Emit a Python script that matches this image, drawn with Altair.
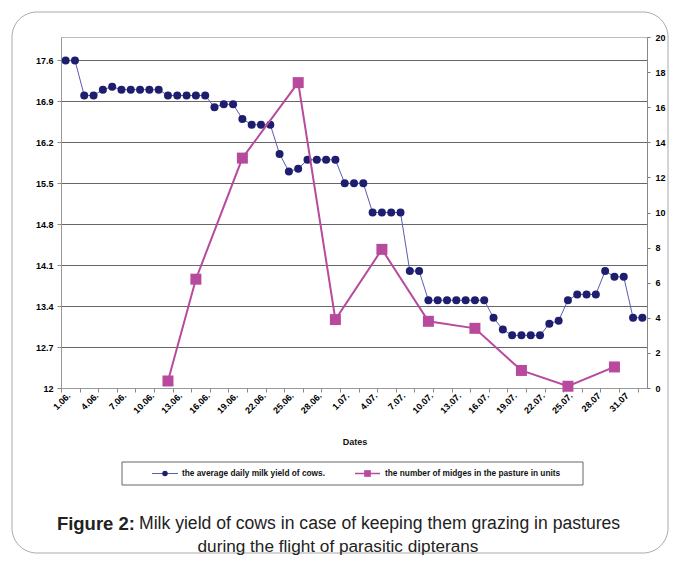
import json
import altair as alt
import pandas as pd

# ---------------- data ----------------
DATES = ([f"{d}.06." for d in range(1, 31)]
         + [f"{d}.07." for d in range(1, 28)]
         + ["28.07", "29.07", "30.07", "31.07", "1.08", "2.08"])

MILK = [17.6, 17.6, 17.0, 17.0, 17.1, 17.15, 17.1, 17.1, 17.1, 17.1,
        17.1, 17.0, 17.0, 17.0, 17.0, 17.0, 16.8, 16.85, 16.85, 16.6,
        16.5, 16.5, 16.5, 16.0, 15.7, 15.75, 15.9, 15.9, 15.9, 15.9,
        15.5, 15.5, 15.5, 15.0, 15.0, 15.0, 15.0, 14.0, 14.0, 13.5,
        13.5, 13.5, 13.5, 13.5, 13.5, 13.5, 13.2, 13.0, 12.9, 12.9,
        12.9, 12.9, 13.1, 13.15, 13.5, 13.6, 13.6, 13.6, 14.0, 13.9,
        13.9, 13.2, 13.2]

MIDGE_DAYS = ["12.06.", "15.06.", "20.06.", "26.06.", "30.06.", "5.07.",
              "10.07.", "15.07.", "20.07.", "25.07.", "30.07"]
MIDGE_VALUES = [0.4, 6.2, 13.1, 17.4, 3.9, 7.9, 3.8, 3.4, 1.0, 0.1, 1.2]

TICK_LABELS = DATES[::3]
LEFT_TICKS = [12, 12.7, 13.4, 14.1, 14.8, 15.5, 16.2, 16.9, 17.6]
RIGHT_TICKS = [0, 2, 4, 6, 8, 10, 12, 14, 16, 18, 20]

SERIES_NAMES = ["the average daily milk yield of cows.",
                "the number of midges in the pasture in units"]
X_TITLE = "Dates"
CAPTION_BOLD = "Figure 2:"
CAPTION_1 = "Milk yield of cows in case of keeping them grazing in pastures"
CAPTION_2 = "during the flight of parasitic dipterans"

df_milk = pd.DataFrame({"i": list(range(len(DATES))), "date": DATES, "milk": MILK})
df_mid = pd.DataFrame({"i": [DATES.index(d) for d in MIDGE_DAYS],
                       "date": MIDGE_DAYS, "midges": MIDGE_VALUES})
one = pd.DataFrame({"a": [0]})

FONT = "Liberation Sans"
BLUE_LINE = "#5b5bb0"
BLUE_DOT = "#1e1e6e"
PINK = "#b84a9e"

xscale = alt.Scale(domain=[-0.5, len(DATES) - 0.5], nice=False, zero=False)
label_expr = json.dumps(TICK_LABELS) + "[round(datum.value / 3)]"

x_labels_axis = alt.Axis(
    values=list(range(0, len(DATES), 3)), labelExpr=label_expr, ticks=False,
    domain=False, grid=False, labelAngle=-45, labelFont=FONT,
    labelFontWeight="bold", labelFontSize=9, labelColor="#000", title=None,
    orient="bottom", labelPadding=3, labelOverlap=False, labelBound=False,
    labelFlush=False)
x_ticks_axis = alt.Axis(
    values=[-0.5 + 2 * k for k in range(32)], labels=False, ticks=True,
    tickSize=4, tickColor="#888", domain=True, domainColor="#999",
    grid=False, title=None, orient="bottom")

milk = alt.Chart(df_milk).mark_line(
    color=BLUE_LINE, strokeWidth=1,
    point=alt.OverlayMarkDef(shape="circle", size=64, filled=True,
                             color=BLUE_DOT, opacity=1)
).encode(
    x=alt.X("i:Q", scale=xscale, axis=x_labels_axis),
    y=alt.Y("milk:Q", scale=alt.Scale(domain=[12, 18], nice=False, zero=False),
            axis=alt.Axis(values=LEFT_TICKS, format=".1~f", orient="left",
                          grid=True, gridColor="#666", gridWidth=1,
                          domainColor="#999", tickColor="#888", tickSize=4,
                          labelPadding=4, labelFont=FONT, labelFontSize=9,
                          labelFontWeight="bold", labelColor="#000",
                          title=None))
)

midges = alt.Chart(df_mid).mark_line(
    color=PINK, strokeWidth=2,
    point=alt.OverlayMarkDef(shape="square", size=121, filled=True,
                             color=PINK, opacity=1)
).encode(
    x=alt.X("i:Q", scale=xscale, axis=x_ticks_axis),
    y=alt.Y("midges:Q", scale=alt.Scale(domain=[0, 20], nice=False),
            axis=alt.Axis(values=RIGHT_TICKS, orient="right", grid=False,
                          domainColor="#888", tickColor="#777", tickSize=3,
                          labelPadding=5, labelFont=FONT, labelFontSize=9,
                          labelFontWeight="bold", labelColor="#000",
                          title=None))
)

# ---------------- annotations (frame, legend, titles) ----------------
border = alt.Chart(one).mark_rect(
    fillOpacity=0, stroke="#aaa", strokeWidth=1, cornerRadius=25
).encode(x=alt.value(-49), x2=alt.value(607), y=alt.value(-25), y2=alt.value(516))

legend_box = alt.Chart(one).mark_rect(
    fillOpacity=0, stroke="#666", strokeWidth=1
).encode(x=alt.value(61), x2=alt.value(522), y=alt.value(425), y2=alt.value(448))

leg_y = 436.5
leg_blue_line = alt.Chart(one).mark_rule(color=BLUE_LINE, strokeWidth=1).encode(
    x=alt.value(91), x2=alt.value(117), y=alt.value(leg_y))
leg_blue_pt = alt.Chart(one).mark_point(shape="circle", size=30, filled=True,
                                        color=BLUE_DOT, opacity=1).encode(
    x=alt.value(104), y=alt.value(leg_y))
leg_pink_line = alt.Chart(one).mark_rule(color=PINK, strokeWidth=1.5).encode(
    x=alt.value(294), x2=alt.value(319), y=alt.value(leg_y))
leg_pink_pt = alt.Chart(one).mark_point(shape="square", size=45, filled=True,
                                        color=PINK, opacity=1).encode(
    x=alt.value(306.5), y=alt.value(leg_y))
leg_text1 = alt.Chart(one).mark_text(
    align="left", baseline="middle", font=FONT, fontSize=8.3,
    fontWeight="bold", color="#111").encode(
    x=alt.value(121), y=alt.value(leg_y), text=alt.value(SERIES_NAMES[0]))
leg_text2 = alt.Chart(one).mark_text(
    align="left", baseline="middle", font=FONT, fontSize=8.3,
    fontWeight="bold", color="#111").encode(
    x=alt.value(324), y=alt.value(leg_y), text=alt.value(SERIES_NAMES[1]))

x_title = alt.Chart(one).mark_text(
    align="center", baseline="middle", font=FONT, fontSize=9,
    fontWeight="bold", color="#111").encode(
    x=alt.value(294), y=alt.value(405), text=alt.value(X_TITLE))

cap_bold = alt.Chart(one).mark_text(
    align="right", baseline="middle", font=FONT, fontSize=18.5,
    fontWeight="bold", color="#222").encode(
    x=alt.value(74), y=alt.value(486.5), text=alt.value(CAPTION_BOLD))
cap_1 = alt.Chart(one).mark_text(
    align="left", baseline="middle", font=FONT, fontSize=17.6,
    color="#222").encode(
    x=alt.value(78), y=alt.value(486.5), text=alt.value(CAPTION_1))
cap_2 = alt.Chart(one).mark_text(
    align="center", baseline="middle", font=FONT, fontSize=17.2,
    color="#222").encode(
    x=alt.value(277), y=alt.value(509.5), text=alt.value(CAPTION_2))

chart = alt.layer(
    milk, midges,
    border, legend_box, leg_blue_line, leg_blue_pt, leg_pink_line, leg_pink_pt,
    leg_text1, leg_text2, x_title, cap_bold, cap_1, cap_2
).resolve_scale(y="independent").resolve_axis(x="independent", y="independent").properties(
    width=586, height=351,
    padding={"left": 53, "top": 29, "right": 22, "bottom": 168},
    autosize=alt.AutoSizeParams(type="none"),
    background="white"
).configure_view(stroke="#bbb", strokeWidth=1)

chart.save("out.html", embed_options={"renderer": "svg", "actions": False})
